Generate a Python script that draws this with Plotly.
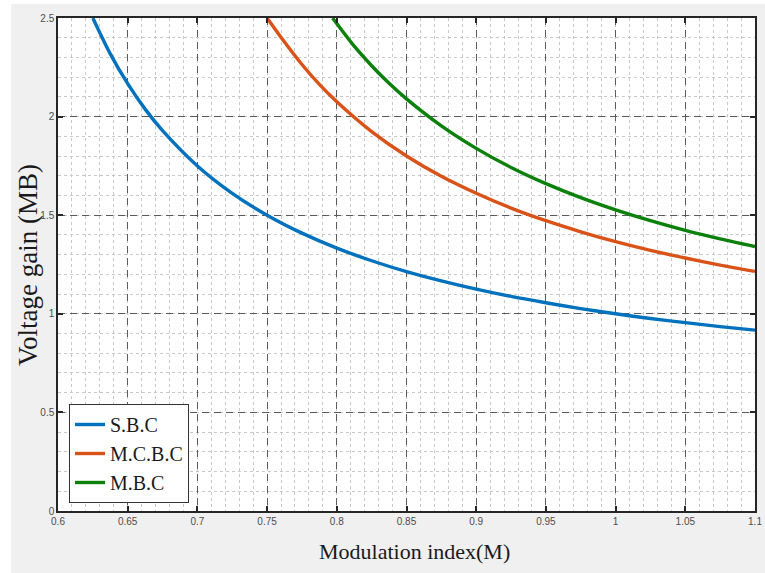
import plotly.graph_objects as go

# Values
m_sbc = [0.625, 0.6375, 0.65, 0.6625, 0.675, 0.7, 0.725, 0.75, 0.775, 0.8, 0.825, 0.85, 0.875,
         0.9, 0.925, 0.95, 0.975, 1.0, 1.025, 1.05, 1.075, 1.1]
g_sbc = [2.5, 2.318, 2.167, 2.038, 1.929, 1.75, 1.611, 1.5, 1.409, 1.333, 1.269, 1.214, 1.167,
         1.125, 1.088, 1.056, 1.026, 1.0, 0.976, 0.955, 0.935, 0.917]

m_mcbc = [0.75, 0.7625, 0.775, 0.7875, 0.8, 0.825, 0.85, 0.875, 0.9, 0.925, 0.95, 0.975,
          1.0, 1.025, 1.05, 1.075, 1.1]
g_mcbc = [2.5, 2.378, 2.264, 2.163, 2.075, 1.924, 1.8, 1.697, 1.611, 1.536, 1.472, 1.416,
          1.366, 1.322, 1.283, 1.247, 1.215]

m_mbc = [0.797, 0.8125, 0.825, 0.8375, 0.85, 0.875, 0.9, 0.925, 0.95, 0.975, 1.0, 1.025,
         1.05, 1.075, 1.1]
g_mbc = [2.5, 2.357, 2.258, 2.169, 2.09, 1.953, 1.839, 1.742, 1.66, 1.589, 1.527, 1.472,
         1.423, 1.38, 1.341]

names = ["S.B.C", "M.C.B.C", "M.B.C"]
colors = ["#0072BD", "#D95319", "#0B800B"]

x_ticks = [0.6, 0.65, 0.7, 0.75, 0.8, 0.85, 0.9, 0.95, 1, 1.05, 1.1]
x_labels = ["0.6", "0.65", "0.7", "0.75", "0.8", "0.85", "0.9", "0.95", "1", "1.05", "1.1"]
y_ticks = [0, 0.5, 1, 1.5, 2, 2.5]
y_labels = ["0", "0.5", "1", "1.5", "2", "2.5"]

fig = go.Figure()
for xs, ys, nm, c in zip([m_sbc, m_mcbc, m_mbc], [g_sbc, g_mcbc, g_mbc], names, colors):
    fig.add_trace(go.Scatter(x=xs, y=ys, mode="lines", name=nm,
                             line=dict(color=c, width=3.4, shape="spline", smoothing=0.8)))

axis_common = dict(
    showline=True, linecolor="#262626", linewidth=1.5, mirror="ticks",
    ticks="inside", ticklen=5, tickcolor="#262626", tickwidth=1.5,
    showgrid=True, gridcolor="#5a5a5a", gridwidth=1, griddash="7px,5px",
    zeroline=False, automargin=False,
    tickfont=dict(family="Liberation Sans, Arial", size=10, color="#4d4d4d"),
)

fig.update_xaxes(range=[0.6, 1.1], tickvals=x_ticks, ticktext=x_labels,
                 minor=dict(dtick=0.01, showgrid=True, gridcolor="#c8c8c8", griddash="dot",
                            gridwidth=1, ticks=""),
                 **axis_common)
fig.update_yaxes(range=[0, 2.5], tickvals=y_ticks, ticktext=y_labels,
                 minor=dict(dtick=0.1, showgrid=True, gridcolor="#c8c8c8", griddash="dot",
                            gridwidth=1, ticks=""),
                 **axis_common)

W, H = 765, 573
L, R, T, B = 58, 10, 18, 62
pw, ph = W - L - R, H - T - B


def px(p):
    return (p - L) / pw


def py(p):
    return (H - B - p) / ph


fig.update_layout(
    width=W, height=H,
    margin=dict(l=L, r=R, t=T, b=B, autoexpand=False),
    paper_bgcolor="#f0f0f0", plot_bgcolor="white",
    showlegend=True,
    legend=dict(x=px(69), y=py(404), xanchor="left", yanchor="top",
                bgcolor="white", bordercolor="#333333", borderwidth=1,
                font=dict(family="Liberation Serif, Times New Roman", size=20, color="#1a1a1a"),
                itemwidth=30, tracegroupgap=0),
    shapes=[
        dict(type="rect", xref="paper", yref="paper", x0=px(0), x1=px(11), y0=py(H), y1=py(0),
             fillcolor="white", line=dict(width=0)),
        dict(type="rect", xref="paper", yref="paper", x0=px(0), x1=px(W), y0=py(4), y1=py(0),
             fillcolor="white", line=dict(width=0)),
    ],
    annotations=[
        dict(text="Modulation index(M)", xref="paper", yref="paper", x=px(414), y=py(551),
             xanchor="center", yanchor="middle", showarrow=False,
             font=dict(family="Liberation Serif, Times New Roman", size=22, color="#1a1a1a")),
        dict(text="Voltage gain (MB)", xref="paper", yref="paper", x=px(28), y=py(265),
             xanchor="center", yanchor="middle", showarrow=False, textangle=-90,
             font=dict(family="Liberation Serif, Times New Roman", size=27, color="#1a1a1a")),
    ],
)

fig.write_html("out.html")
